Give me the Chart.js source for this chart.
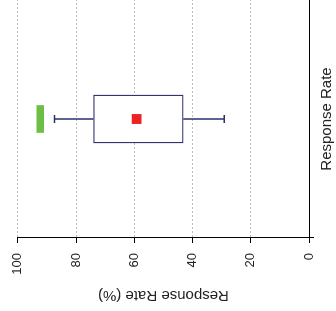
<!DOCTYPE html>
<html>
<head>
<meta charset="utf-8">
<script src="https://cdn.jsdelivr.net/npm/chart.js@4.4.1/dist/chart.umd.min.js"></script>
<style>
html,body{margin:0;padding:0;background:#fff;overflow:hidden;width:336px;height:311px;}
#wrap{position:absolute;left:0;top:0;width:311px;height:336px;transform-origin:0 0;transform:translate(0,311px) rotate(-90deg);}
</style>
</head>
<body>
<div id="wrap"><canvas id="c" width="311" height="336"></canvas></div>
<script>
const categories = ["Response Rate"];
const q1 = [43.2];
const q3 = [74.0];
const whiskerLow = [29.1];
const whiskerHigh = [87.4];
const meanValues = [59.2];
const outlierLow = [91.1];
const outlierHigh = [93.5];
const yTicks = [0, 20, 40, 60, 80, 100];

const NAVY = '#2c2f6e';

const whiskerPlugin = {
  id: 'whiskers',
  afterDatasetsDraw(chart) {
    const {ctx, scales: {x, y}} = chart;
    ctx.save();
    ctx.strokeStyle = NAVY;
    ctx.lineWidth = 1.5;
    categories.forEach((c, i) => {
      const cx = x.getPixelForValue(i);
      const segs = [[q3[i], whiskerHigh[i]], [q1[i], whiskerLow[i]]];
      segs.forEach(([a, b]) => {
        const ya = y.getPixelForValue(a), yb = y.getPixelForValue(b);
        ctx.beginPath();
        ctx.moveTo(cx, ya); ctx.lineTo(cx, yb);
        ctx.moveTo(cx - 4, yb); ctx.lineTo(cx + 4, yb);
        ctx.stroke();
      });
    });
    ctx.restore();
  }
};

new Chart(document.getElementById('c'), {
  type: 'bar',
  data: {
    labels: categories,
    datasets: [
      {
        type: 'bar',
        data: categories.map((c, i) => [q1[i], q3[i]]),
        backgroundColor: '#ffffff',
        borderColor: NAVY,
        borderWidth: 1.3,
        borderSkipped: false,
        barThickness: 48,
        grouped: false,
        order: 2
      },
      {
        type: 'bar',
        data: categories.map((c, i) => [outlierLow[i], outlierHigh[i]]),
        backgroundColor: '#6cbf45',
        borderWidth: 0,
        barThickness: 27,
        grouped: false,
        order: 2
      },
      {
        type: 'line',
        data: meanValues,
        showLine: false,
        pointStyle: 'rect',
        pointRadius: 7,
        pointHoverRadius: 7,
        backgroundColor: '#ee2222',
        borderColor: '#ee2222',
        borderWidth: 0,
        order: 0
      }
    ]
  },
  options: {
    responsive: false,
    animation: false,
    devicePixelRatio: 1,
    layout: {autoPadding: false, padding: {left: 3, top: 10, right: 0, bottom: 0}},
    plugins: {legend: {display: false}, tooltip: {enabled: false}},
    scales: {
      x: {
        type: 'category',
        offset: true,
        afterFit(scale) { scale.height = 27; },
        grid: {display: true, drawOnChartArea: false, drawTicks: true, tickLength: 5, offset: true, color: '#000'},
        border: {display: true, color: '#000', width: 1},
        ticks: {color: '#222', font: {family: 'Liberation Sans, Arial, sans-serif', size: 15}, padding: 4}
      },
      y: {
        min: 0,
        max: 100,
        afterBuildTicks(scale) { scale.ticks = yTicks.map(v => ({value: v})); },
        afterFit(scale) { scale.width = 70; },
        grid: {color: '#bdbdbd', tickColor: '#000', tickLength: 5, drawTicks: true, lineWidth: 1},
        border: {display: true, color: '#000', width: 1, dash: [2, 2]},
        ticks: {color: '#222', font: {family: 'Liberation Sans, Arial, sans-serif', size: 13}, padding: 10},
        title: {display: true, text: 'Response Rate (%)', color: '#222', font: {family: 'Liberation Sans, Arial, sans-serif', size: 15}, padding: {top: 4, bottom: 4}}
      }
    }
  },
  plugins: [whiskerPlugin]
});
</script>
</body>
</html>
